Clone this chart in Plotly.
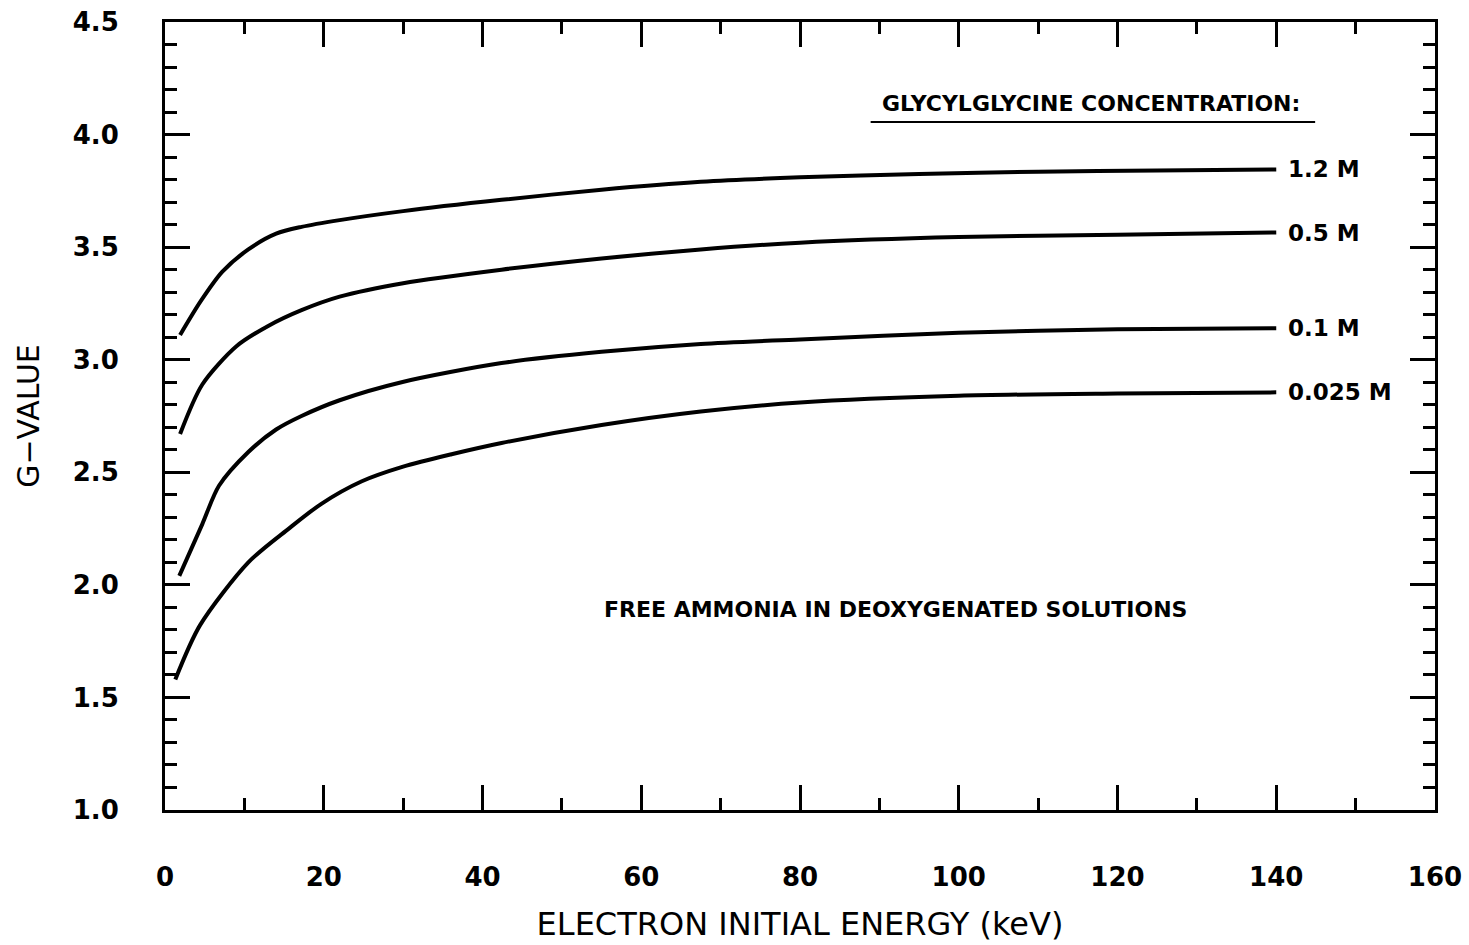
import plotly.graph_objects as go

energy_12 = [1.9, 4.5, 7.2, 10.5, 14, 17.2, 22, 30, 42.4, 55, 67.5, 80, 95, 110, 125, 140]
gval_12 = [3.11, 3.26, 3.39, 3.49, 3.56, 3.59, 3.62, 3.66, 3.71, 3.755, 3.79, 3.81, 3.825, 3.835, 3.84, 3.845]

energy_05 = [1.9, 4.7, 9.0, 13, 17.2, 22, 30, 42.4, 55, 67.5, 80, 100, 120, 140]
gval_05 = [2.67, 2.89, 3.06, 3.15, 3.22, 3.28, 3.34, 3.40, 3.45, 3.49, 3.52, 3.545, 3.555, 3.565]

energy_01 = [1.8, 4.7, 6.8, 10.5, 14, 17.2, 22, 29.8, 42.4, 55, 67.5, 80, 100, 120, 140]
gval_01 = [2.04, 2.27, 2.44, 2.59, 2.69, 2.75, 2.82, 2.9, 2.985, 3.035, 3.07, 3.09, 3.12, 3.135, 3.14]

energy_0025 = [1.3, 4.4, 10.5, 15.6, 19.7, 24.8, 30, 36.1, 42.4, 55, 67.5, 80, 100, 120, 140]
gval_0025 = [1.58, 1.82, 2.10, 2.25, 2.36, 2.46, 2.525, 2.58, 2.63, 2.71, 2.77, 2.81, 2.84, 2.85, 2.855]

series = [
    ("1.2 M", energy_12, gval_12),
    ("0.5 M", energy_05, gval_05),
    ("0.1 M", energy_01, gval_01),
    ("0.025 M", energy_0025, gval_0025),
]

x_ticks = [0, 20, 40, 60, 80, 100, 120, 140, 160]
y_ticks = [1.0, 1.5, 2.0, 2.5, 3.0, 3.5, 4.0, 4.5]

FONT = "DejaVu Sans"

fig = go.Figure()
for name, xs, ys in series:
    fig.add_trace(go.Scatter(x=xs, y=ys, mode="lines", name=name,
                             line=dict(color="black", width=4, shape="spline", smoothing=0.8),
                             showlegend=False))
    fig.add_annotation(x=xs[-1], y=ys[-1], text=name, showarrow=False,
                       xanchor="left", xshift=10,
                       font=dict(family=FONT, size=23, color="black", weight="bold"))

fig.add_annotation(x=116.6, y=4.14, text="GLYCYLGLYCINE CONCENTRATION:", showarrow=False,
                   font=dict(family=FONT, size=22, color="black", weight="bold"))
fig.add_shape(type="line", x0=88.9, x1=144.9, y0=4.056, y1=4.056,
              line=dict(color="black", width=2))
fig.add_annotation(x=92.0, y=1.89, text="FREE AMMONIA IN DEOXYGENATED SOLUTIONS", showarrow=False,
                   font=dict(family=FONT, size=22, color="black", weight="bold"))

fig.update_xaxes(range=[0, 160], tickvals=x_ticks, ticktext=[str(v) for v in x_ticks],
                 ticks="inside", ticklen=25, tickwidth=3, tickcolor="black",
                 minor=dict(dtick=10, ticks="inside", ticklen=12, tickwidth=3, tickcolor="black"),
                 showline=True, linecolor="black", linewidth=3, mirror="ticks",
                 showgrid=False, zeroline=False, ticklabelstandoff=42, automargin=False,
                 tickfont=dict(family=FONT, size=26, color="black", weight="bold"),
                 title=dict(text="ELECTRON INITIAL ENERGY (keV)",
                            font=dict(family=FONT, size=32, color="black"), standoff=22))
fig.update_yaxes(range=[1.0, 4.5], tickvals=y_ticks, ticktext=[f"{v:.1f}" for v in y_ticks],
                 ticks="inside", ticklen=25, tickwidth=3, tickcolor="black",
                 minor=dict(dtick=0.1, ticks="inside", ticklen=12, tickwidth=3, tickcolor="black"),
                 showline=True, linecolor="black", linewidth=3, mirror="ticks",
                 showgrid=False, zeroline=False, ticklabelstandoff=38, automargin=False,
                 tickfont=dict(family=FONT, size=26, color="black", weight="bold"),
                 title=dict(text="G\u2212VALUE", font=dict(family=FONT, size=30, color="black"),
                            standoff=25))

fig.update_layout(width=1469, height=945, margin=dict(l=165, r=34, t=22, b=135),
                  plot_bgcolor="white", paper_bgcolor="white")

fig.write_html("out.html")
